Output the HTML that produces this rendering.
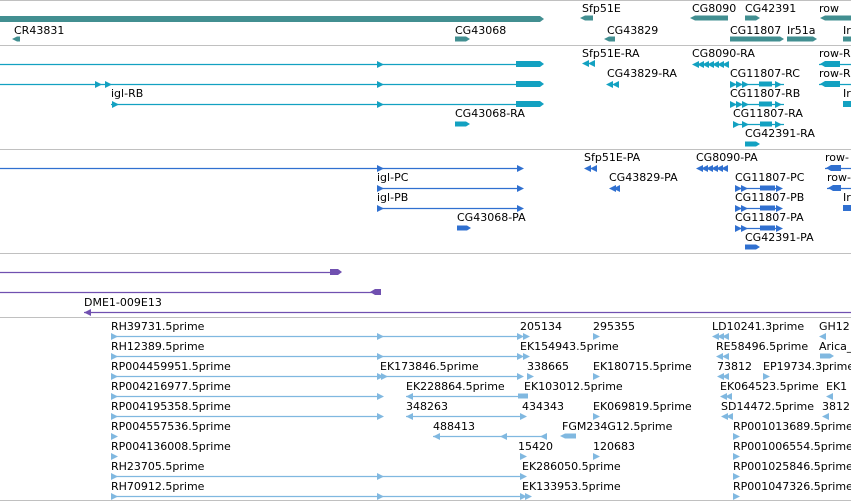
<!DOCTYPE html>
<html><head><meta charset="utf-8">
<style>
html,body{margin:0;padding:0;background:#fff;}
svg{display:block;}
text{font-family:"DejaVu Sans","Liberation Sans",sans-serif;font-size:11px;fill:#000;}
</style></head>
<body>
<svg id="g" width="851" height="501" viewBox="0 0 851 501" xmlns="http://www.w3.org/2000/svg"></svg>
<script>
const separators=[0.5,45.5,149.5,253.5,317.5,500.5];
const trackColors=["#428f91","#13a1c1","#3070d0","#7050b0","#80b8e0"];
// labels: [track, x, baseline, text]
const labels=[
[0,14,34,"CR43831"],[0,455,34,"CG43068"],[0,582,12,"Sfp51E"],[0,607,34,"CG43829"],[0,692,12,"CG8090"],[0,745,12,"CG42391"],[0,819,12,"row"],[0,730,34,"CG11807"],[0,787,34,"Ir51a"],[0,843,34,"Ir"],
[1,111,97,"igl-RB"],[1,455,117,"CG43068-RA"],[1,582,57,"Sfp51E-RA"],[1,607,77,"CG43829-RA"],[1,692,57,"CG8090-RA"],[1,730,77,"CG11807-RC"],[1,730,97,"CG11807-RB"],[1,733,117,"CG11807-RA"],[1,745,137,"CG42391-RA"],[1,819,57,"row-R"],[1,819,77,"row-R"],[1,843,97,"Ir"],
[2,377,181,"igl-PC"],[2,377,201,"igl-PB"],[2,457,221,"CG43068-PA"],[2,584,161,"Sfp51E-PA"],[2,609,181,"CG43829-PA"],[2,696,161,"CG8090-PA"],[2,735,181,"CG11807-PC"],[2,735,201,"CG11807-PB"],[2,735,221,"CG11807-PA"],[2,745,241,"CG42391-PA"],[2,825,161,"row-"],[2,827,181,"row-"],[2,843,201,"Ir"],
[3,84,306,"DME1-009E13"],
[4,111,330,"RH39731.5prime"],[4,111,350,"RH12389.5prime"],[4,111,370,"RP004459951.5prime"],[4,111,390,"RP004216977.5prime"],[4,111,410,"RP004195358.5prime"],[4,111,430,"RP004557536.5prime"],[4,111,450,"RP004136008.5prime"],[4,111,470,"RH23705.5prime"],[4,111,490,"RH70912.5prime"],
[4,380,370,"EK173846.5prime"],[4,406,390,"EK228864.5prime"],[4,406,410,"348263"],[4,433,430,"488413"],
[4,520,330,"205134"],[4,593,330,"295355"],[4,520,350,"EK154943.5prime"],[4,527,370,"338665"],[4,593,370,"EK180715.5prime"],[4,524,390,"EK103012.5prime"],[4,522,410,"434343"],[4,593,410,"EK069819.5prime"],[4,562,430,"FGM234G12.5prime"],[4,518,450,"15420"],[4,593,450,"120683"],[4,522,470,"EK286050.5prime"],[4,522,490,"EK133953.5prime"],
[4,712,330,"LD10241.3prime"],[4,819,330,"GH12"],[4,716,350,"RE58496.5prime"],[4,819,350,"Arica_"],[4,717,370,"73812"],[4,763,370,"EP19734.3prime"],[4,720,390,"EK064523.5prime"],[4,826,390,"EK1"],[4,721,410,"SD14472.5prime"],[4,822,410,"3812"],[4,733,430,"RP001013689.5prime"],[4,733,450,"RP001006554.5prime"],[4,733,470,"RP001025846.5prime"],[4,733,490,"RP001047326.5prime"]
];
// lines: [track, x1, x2, y]
const lines=[
[1,0,516,64],[1,0,516,84],[1,111,516,104],[1,819,851,64],[1,819,851,84],[1,730,784,84],[1,730,784,104],[1,733,784,124],
[2,0,520,168],[2,377,520,188],[2,377,520,208],[2,735,780,188],[2,735,780,208],[2,735,780,228],[2,825,851,168],[2,827,851,188],
[3,0,330,272],[3,0,372,292],[3,84,851,312],
[4,111,520,336],[4,111,520,356],[4,111,380,376],[4,111,381,396],[4,111,381,416],[4,111,520,476],[4,111,520,496],
[4,380,520,376],[4,406,520,396],[4,406,520,416],[4,433,542,436]
];
// blocks: [track, x1, x2, y-center, height, dir(1 right,-1 left,0 none)]
const blocks=[
[0,0,540,19,6,1],[0,14,20,39,5,-1],[0,455,466,39,5,1],[0,582,593,18,5,-1],[0,606,615,39,5,-1],[0,692,728,18,5,-1],[0,745,756,18,5,1],[0,822,851,18,5,-1],[0,730,780,39,5,1],[0,787,813,39,5,1],[0,843,851,39,5,0],
[1,516,540,64,6,1],[1,516,540,84,6,1],[1,516,540,104,6,1],[1,455,466,124,5,1],[1,822,840,64,6,-1],[1,822,840,84,6,-1],[1,843,851,104,6,0],[1,745,756,144,5,1],
[1,759,772,84,5,0],[1,759,772,104,5,0],[1,760,772,124,5,0],
[2,457,467,228,5,1],[2,828,841,168,6,-1],[2,830,841,188,6,-1],[2,843,851,208,6,0],[2,745,756,247,5,1],
[2,760,775,188,5,0],[2,760,775,208,5,0],[2,760,775,228,5,0],
[3,330,338,272,6,1],[3,372,381,292,6,-1],
[4,518,528,396,5,0],[4,562,576,436,5,-1],[4,820,830,356,5,1]
];
// arrowheads: [track, x, y, dir]
const heads=[
[1,377,64,1],[1,95,84,1],[1,105,84,1],[1,377,84,1],[1,112,104,1],[1,377,104,1],
[1,582,63,-1],[1,588,63,-1],[1,606,84,-1],[1,612,84,-1],
[1,692,64,-1],[1,697,64,-1],[1,702,64,-1],[1,707,64,-1],[1,712,64,-1],[1,717,64,-1],[1,722,64,-1],
[1,730,84,1],[1,736,84,1],[1,742,84,1],[1,775,84,1],[1,730,104,1],[1,736,104,1],[1,742,104,1],[1,775,104,1],[1,733,124,1],[1,742,124,1],[1,775,124,1],
[2,377,168,1],[2,517,168,1],[2,377,188,1],[2,517,188,1],[2,377,208,1],[2,517,208,1],
[2,584,168,-1],[2,590,168,-1],[2,609,188,-1],[2,613,188,-1],
[2,696,168,-1],[2,701,168,-1],[2,706,168,-1],[2,711,168,-1],[2,716,168,-1],[2,721,168,-1],
[2,735,188,1],[2,741,188,1],[2,776,188,1],[2,735,208,1],[2,741,208,1],[2,776,208,1],[2,735,228,1],[2,741,228,1],[2,776,228,1],
[3,84,312,-1],
[4,111,336,1],[4,377,336,1],[4,517,336,1],[4,523,336,1],[4,111,356,1],[4,377,356,1],[4,517,356,1],[4,523,356,1],
[4,111,376,1],[4,377,376,1],[4,381,376,1],[4,517,376,1],[4,527,376,1],[4,111,396,1],[4,377,396,1],[4,406,396,-1],
[4,111,416,1],[4,377,416,1],[4,406,416,-1],[4,520,416,1],[4,111,436,1],[4,433,436,-1],[4,500,436,-1],[4,540,436,-1],
[4,111,456,1],[4,520,456,1],[4,111,476,1],[4,377,476,1],[4,520,476,1],[4,111,496,1],[4,377,496,1],[4,520,496,1],[4,525,496,1],
[4,593,336,1],[4,593,376,1],[4,593,416,1],[4,593,456,1],
[4,712,336,-1],[4,717,336,-1],[4,722,336,-1],[4,716,356,-1],[4,722,356,-1],[4,717,376,-1],[4,722,376,-1],[4,720,396,-1],[4,725,396,-1],[4,721,416,-1],[4,726,416,-1],
[4,819,336,-1],[4,763,376,1],[4,826,396,-1],[4,822,416,-1],[4,733,436,1],[4,733,456,1],[4,733,476,1],[4,733,496,1]
];
const NS="http://www.w3.org/2000/svg";
const svg=document.getElementById('g');
function mk(tag,attrs){const e=document.createElementNS(NS,tag);for(const k in attrs)e.setAttribute(k,attrs[k]);svg.appendChild(e);return e;}
separators.forEach(y=>{
  const e=mk('line',{x1:0,x2:851,y1:y,y2:y,stroke:'#c0c0c0','stroke-width':1});
  
  
});
lines.forEach(l=>{
  const e=mk('line',{x1:l[1],x2:l[2],y1:l[3]+0.5,y2:l[3]+0.5,stroke:trackColors[l[0]],'stroke-width':1.3});
  
  
});
blocks.forEach(b=>{
  const [t,x1,x2,yc,h,d]=b;const y0=yc-h/2,y1=yc+h/2;let pts;
  if(d===1)pts=`${x1},${y0} ${x2},${y0} ${x2+4},${yc} ${x2},${y1} ${x1},${y1}`;
  else if(d===-1)pts=`${x1+3},${y0} ${x2},${y0} ${x2},${y1} ${x1+3},${y1} ${x1-2},${yc}`;
  else pts=`${x1},${y0} ${x2},${y0} ${x2},${y1} ${x1},${y1}`;
  const e=mk('polygon',{points:pts,fill:trackColors[t]});
  
  
});
heads.forEach(a=>{
  const [t,x,y,d]=a;const yc=y+0.5;
  const pts=d===1?`${x},${yc-3.5} ${x+7},${yc} ${x},${yc+3.5}`:`${x+7},${yc-3.5} ${x},${yc} ${x+7},${yc+3.5}`;
  const e=mk('polygon',{points:pts,fill:trackColors[t]});
  
  
});
labels.forEach(l=>{
  const e=mk('text',{x:l[1],y:l[2]});
  e.textContent=l[3];
  
  
});
</script>
</body></html>
